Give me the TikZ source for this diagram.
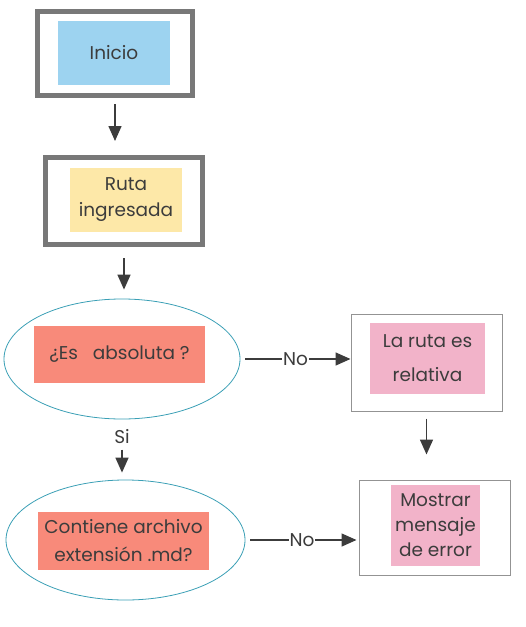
\documentclass[tikz,border=0pt]{standalone}
\usepackage{fontspec}
\setmainfont{Poppins}
\usepackage{tikz}
\usetikzlibrary{shapes.geometric,arrows.meta}

\definecolor{marco}{HTML}{787878}
\definecolor{azul}{HTML}{9DD3F0}
\definecolor{amarillo}{HTML}{FDE8A8}
\definecolor{salmon}{HTML}{F88A7A}
\definecolor{rosa}{HTML}{F2B3C9}
\definecolor{borde}{HTML}{3A9FB5}
\definecolor{texto}{HTML}{3C3C3C}

\begin{document}
\begin{tikzpicture}[x=1pt,y=-1pt,
	every node/.style={text=texto, font=\fontsize{18.5}{26}\selectfont, align=center},
	marcoGrueso/.style={draw=marco, line width=5pt},
	marcoFino/.style={draw=marco!80, line width=1pt},
	elipse/.style={ellipse, draw=borde, line width=0.8pt},
	caja/.style={inner sep=0pt},
	flecha/.style={draw=texto, line width=1.5pt, -{Triangle[width=13pt,length=15pt]}}]

\useasboundingbox (0,0) rectangle (526,627);

% inicio
\node[marcoGrueso, minimum width=155pt, minimum height=84pt] (inicioBox) at (115,53.5) {};
\node[caja, fill=azul, minimum width=112pt, minimum height=64pt] (inicio) at (114,53) {Inicio};

% ruta ingresada
\node[marcoGrueso, minimum width=157pt, minimum height=87pt] (rutaBox) at (124,201) {};
\node[caja, fill=amarillo, minimum width=112pt, minimum height=64pt] (ruta) at (126,200) {Ruta\\ingresada};

% preguntas
\node[elipse, minimum width=236pt, minimum height=120pt] (absBox) at (122,359) {};
\node[caja, fill=salmon, minimum width=171pt, minimum height=57pt] (abs) at (119.5,354.5) {¿Es\ \ \ absoluta ?};

\node[elipse, minimum width=239pt, minimum height=120pt] (mdBox) at (125.5,540) {};
\node[caja, fill=salmon, minimum width=171pt, minimum height=58pt] (md) at (123.5,541) {Contiene archivo\\[2pt]extensión .md?};

% resultados
\node[marcoFino, minimum width=151pt, minimum height=97pt] (relBox) at (426.5,362.5) {};
\node[caja, fill=rosa, minimum width=115pt, minimum height=71pt] (rel) at (427.5,358) {La ruta es\\[8pt]relativa};

\node[marcoFino, minimum width=151pt, minimum height=95pt] (errBox) at (434.5,527.5) {};
\node[caja, fill=rosa, minimum width=89pt, minimum height=81pt] (err) at (435.5,525.5) {Mostrar\\[-1pt]mensaje\\[-1pt]de error};

\node (si) at (122,437) {Si};

% conectores
\draw[flecha, shorten <=6pt, shorten >=14pt] (inicioBox.south) -- (inicioBox.south |- rutaBox.north);
\draw[flecha, shorten <=11pt, shorten >=9pt] (rutaBox.south) -- (rutaBox.south |- absBox.north);
\draw[flecha, shorten <=5pt] (absBox.east) -- node[fill=white, inner sep=1pt] {No} (absBox.east -| relBox.west);
\draw[flecha, shorten <=7pt, shorten >=25pt] (relBox.south) -- (relBox.south |- errBox.north);
\draw[flecha, shorten <=2pt, shorten >=7pt] (si) -- (si |- mdBox.north);
\draw[flecha, shorten <=5pt, shorten >=2pt] (mdBox.east) -- node[fill=white, inner sep=1pt] {No} (mdBox.east -| errBox.west);

\end{tikzpicture}
\end{document}
